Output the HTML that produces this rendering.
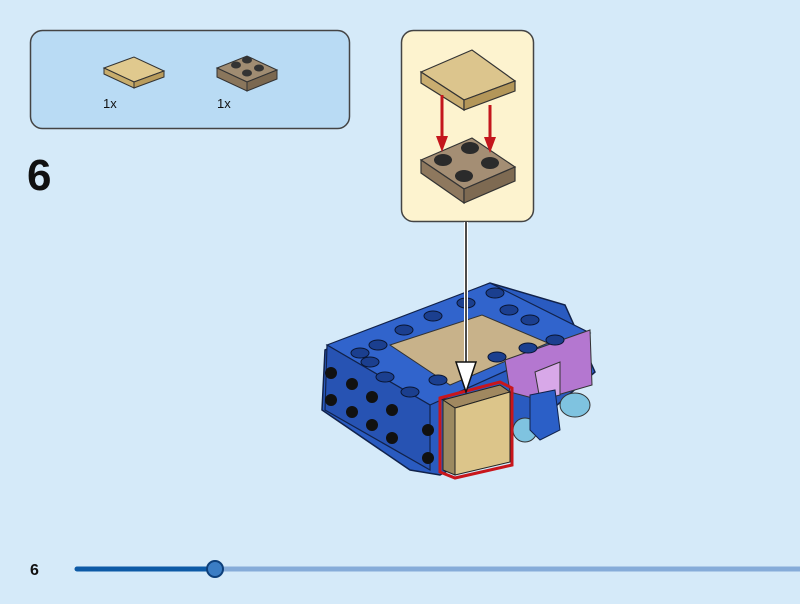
<!DOCTYPE html>
<html><head><style>
html,body{margin:0;padding:0;background:#d5eaf9;}
svg{display:block;}
</style></head><body>
<svg width="800" height="604" viewBox="0 0 800 604" xmlns="http://www.w3.org/2000/svg" font-family="Liberation Sans, sans-serif">
<rect width="800" height="604" fill="#d5eaf9"/>
<!-- parts box -->
<rect x="30.5" y="30.5" width="319" height="98" rx="12" fill="#b9dbf4" stroke="#444" stroke-width="1.5"/>
<polygon points="104,68 134,57 164,71 134,82" fill="#e0c98e" stroke="#333" stroke-width="1"/>
<polygon points="104,68 134,82 134,88 104,74" fill="#c8ad6c" stroke="#333" stroke-width="1"/>
<polygon points="134,82 164,71 164,77 134,88" fill="#b99c5c" stroke="#333" stroke-width="1"/>
<text x="103" y="108" font-size="13" fill="#111">1x</text>
<polygon points="217,68 247,56 277,70 247,82" fill="#a08c72" stroke="#333"/>
<polygon points="217,68 247,82 247,91 217,77" fill="#8a765c" stroke="#333"/>
<polygon points="247,82 277,70 277,79 247,91" fill="#7b6850" stroke="#333"/>
<g fill="#333"><ellipse cx="236" cy="65" rx="5" ry="3.5"/><ellipse cx="247" cy="60" rx="5" ry="3.5"/><ellipse cx="247" cy="73" rx="5" ry="3.5"/><ellipse cx="259" cy="68" rx="5" ry="3.5"/></g>
<text x="217" y="108" font-size="13" fill="#111">1x</text>
<text x="27" y="190" font-size="44" font-weight="bold" fill="#111">6</text>
<!-- callout -->
<rect x="401.5" y="30.5" width="132" height="191" rx="12" fill="#fdf3cf" stroke="#444" stroke-width="1.5"/>
<polygon points="421,72 472,50 515,81 464,100" fill="#dcc58d" stroke="#333" stroke-width="1.2"/>
<polygon points="421,72 464,100 464,110 421,83" fill="#c9ad70" stroke="#333" stroke-width="1.2"/>
<polygon points="464,100 515,81 515,91 464,110" fill="#b39659" stroke="#333" stroke-width="1.2"/>
<polygon points="421,160 472,138 515,167 464,189" fill="#a48e74" stroke="#333" stroke-width="1.2"/>
<polygon points="421,160 464,189 464,203 421,173" fill="#8e785e" stroke="#333" stroke-width="1.2"/>
<polygon points="464,189 515,167 515,181 464,203" fill="#7e6a52" stroke="#333" stroke-width="1.2"/>
<g fill="#2b2b2b"><ellipse cx="443" cy="160" rx="9" ry="6"/><ellipse cx="470" cy="148" rx="9" ry="6"/><ellipse cx="490" cy="163" rx="9" ry="6"/><ellipse cx="464" cy="176" rx="9" ry="6"/></g>
<g stroke="#c4161c" stroke-width="3" fill="#c4161c">
<line x1="442" y1="95" x2="442" y2="140"/><polygon points="436,136 448,136 442,152" stroke="none"/>
<line x1="490" y1="105" x2="490" y2="141"/><polygon points="484,137 496,137 490,153" stroke="none"/>
</g>
<!-- model -->
<polygon points="325,350 490,283 565,305 595,372 540,420 440,475 410,470 322,410" fill="#2a5bc0" stroke="#11224a" stroke-width="1.5"/>
<polygon points="327,345 490,283 590,333 430,405" fill="#3164cc" stroke="#11224a" stroke-width="1.2"/>
<polygon points="327,345 430,405 430,470 325,410" fill="#2753b3" stroke="#11224a" stroke-width="1.2"/>
<polygon points="390,345 482,315 548,343 450,385" fill="#c8b28a" stroke="#333" stroke-width="1"/>
<ellipse cx="575" cy="405" rx="15" ry="12" fill="#7fc3e0" stroke="#333"/>
<ellipse cx="525" cy="430" rx="12" ry="12" fill="#7fc3e0" stroke="#333"/>
<polygon points="505,360 590,330 592,385 540,400 510,392" fill="#b477d0" stroke="#333" stroke-width="1"/>
<polygon points="535,372 560,362 560,395 540,400" fill="#d8a8e8" stroke="#333"/>
<polygon points="530,395 555,390 560,430 540,440 530,430" fill="#2b5fc7" stroke="#11224a"/>
<g fill="#1b3f8f" stroke="#0a1633" stroke-width="1">
<ellipse cx="360" cy="353" rx="9" ry="5"/><ellipse cx="378" cy="345" rx="9" ry="5"/><ellipse cx="404" cy="330" rx="9" ry="5"/><ellipse cx="433" cy="316" rx="9" ry="5"/><ellipse cx="466" cy="303" rx="9" ry="5"/><ellipse cx="495" cy="293" rx="9" ry="5"/>
<ellipse cx="509" cy="310" rx="9" ry="5"/><ellipse cx="530" cy="320" rx="9" ry="5"/><ellipse cx="555" cy="340" rx="9" ry="5"/><ellipse cx="528" cy="348" rx="9" ry="5"/>
<ellipse cx="370" cy="362" rx="9" ry="5"/><ellipse cx="385" cy="377" rx="9" ry="5"/><ellipse cx="410" cy="392" rx="9" ry="5"/><ellipse cx="438" cy="380" rx="9" ry="5"/><ellipse cx="497" cy="357" rx="9" ry="5"/>
</g>
<g fill="#111">
<circle cx="331" cy="373" r="6"/><circle cx="331" cy="400" r="6"/><circle cx="352" cy="384" r="6"/><circle cx="352" cy="412" r="6"/><circle cx="372" cy="397" r="6"/><circle cx="372" cy="425" r="6"/><circle cx="392" cy="438" r="6"/><circle cx="392" cy="410" r="6"/>
<circle cx="428" cy="430" r="6"/><circle cx="428" cy="458" r="6"/>
</g>
<polygon points="440,398 500,382 512,388 512,465 455,478 440,472" fill="none" stroke="#c8161c" stroke-width="3"/>
<polygon points="443,400 500,385 510,392 455,408" fill="#a08860" stroke="#222"/>
<polygon points="443,400 455,408 455,475 443,470" fill="#9c8a60" stroke="#222"/>
<polygon points="455,408 510,392 510,462 455,475" fill="#dcc58a" stroke="#222"/>
<line x1="466" y1="222" x2="466" y2="375" stroke="#fff" stroke-width="4"/>
<line x1="466" y1="222" x2="466" y2="375" stroke="#111" stroke-width="1.5"/>
<polygon points="456,362 476,362 466,392" fill="#fff" stroke="#111" stroke-width="1.5"/>
<text x="30" y="575" font-size="16" font-weight="bold" fill="#111">6</text>
<line x1="215" y1="569" x2="800" y2="569" stroke="#86acd9" stroke-width="5"/>
<line x1="77" y1="569" x2="215" y2="569" stroke="#0d5aa6" stroke-width="5" stroke-linecap="round"/>
<circle cx="215" cy="569" r="8" fill="#3b7dc4" stroke="#0d3f7a" stroke-width="2"/>
</svg>
</body></html>
